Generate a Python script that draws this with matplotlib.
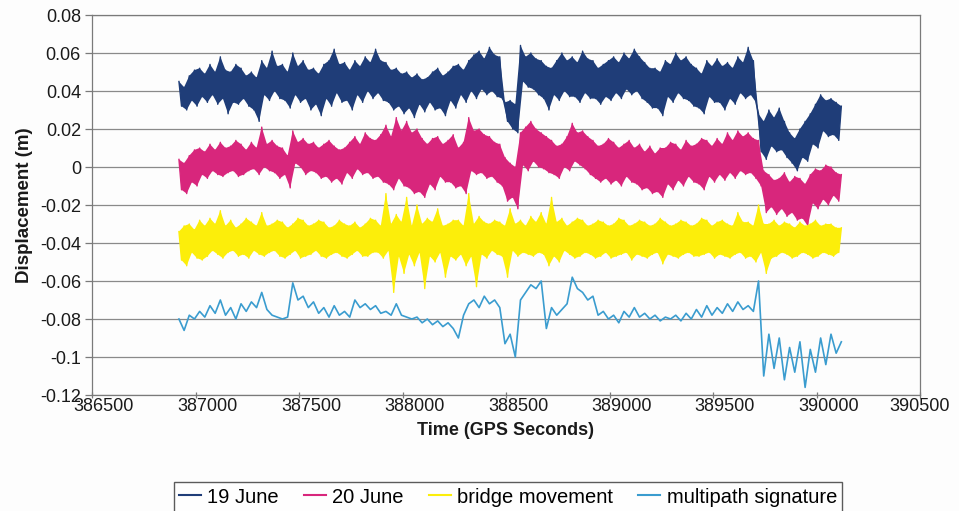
import numpy as np
import matplotlib
matplotlib.use("Agg")
import matplotlib.pyplot as plt
import matplotlib.transforms as mtransforms
from matplotlib import font_manager
from matplotlib.ticker import MultipleLocator, FuncFormatter

# sample times (GPS seconds) for the three dense traces (12.5 s) and the multipath line (25 s)
times = np.arange(386920, 390121, 12.5)
times_mp = np.arange(386920, 390121, 25)
xticks = [386500, 387000, 387500, 388000, 388500, 389000, 389500, 390000, 390500]

# values, alternating upper / lower edge of each noisy trace
june19 = [
    0.045, 0.032, 0.042, 0.030, 0.048, 0.035, 0.051, 0.032, 0.052, 0.037, 0.049, 0.034,
    0.054, 0.038, 0.050, 0.033, 0.058, 0.036, 0.051, 0.028, 0.050, 0.034, 0.054, 0.033,
    0.052, 0.036, 0.048, 0.032, 0.050, 0.030, 0.047, 0.024, 0.056, 0.038, 0.052, 0.035,
    0.061, 0.040, 0.053, 0.036, 0.054, 0.035, 0.050, 0.031, 0.060, 0.038, 0.053, 0.034,
    0.056, 0.036, 0.051, 0.030, 0.052, 0.033, 0.049, 0.027, 0.054, 0.036, 0.056, 0.032,
    0.062, 0.039, 0.054, 0.034, 0.055, 0.035, 0.051, 0.030, 0.056, 0.038, 0.053, 0.034,
    0.058, 0.040, 0.055, 0.036, 0.062, 0.039, 0.056, 0.035, 0.055, 0.034, 0.051, 0.030,
    0.052, 0.032, 0.049, 0.028, 0.050, 0.031, 0.047, 0.026, 0.049, 0.033, 0.046, 0.029,
    0.047, 0.034, 0.050, 0.030, 0.052, 0.031, 0.048, 0.027, 0.050, 0.035, 0.053, 0.031,
    0.054, 0.038, 0.051, 0.034, 0.056, 0.040, 0.059, 0.036, 0.061, 0.041, 0.057, 0.038,
    0.063, 0.040, 0.059, 0.037, 0.058, 0.036, 0.034, 0.024, 0.035, 0.020, 0.033, 0.018,
    0.064, 0.045, 0.058, 0.042, 0.060, 0.041, 0.057, 0.038, 0.056, 0.036, 0.053, 0.030,
    0.052, 0.038, 0.056, 0.035, 0.060, 0.040, 0.056, 0.037, 0.058, 0.037, 0.055, 0.034,
    0.061, 0.039, 0.057, 0.036, 0.056, 0.036, 0.052, 0.033, 0.054, 0.037, 0.056, 0.035,
    0.058, 0.039, 0.055, 0.036, 0.060, 0.041, 0.057, 0.038, 0.062, 0.040, 0.058, 0.036,
    0.055, 0.034, 0.052, 0.031, 0.052, 0.031, 0.050, 0.027, 0.056, 0.037, 0.054, 0.034,
    0.060, 0.039, 0.056, 0.036, 0.058, 0.035, 0.054, 0.032, 0.052, 0.031, 0.049, 0.028,
    0.056, 0.037, 0.053, 0.034, 0.057, 0.034, 0.053, 0.030, 0.055, 0.036, 0.052, 0.033,
    0.058, 0.039, 0.055, 0.036, 0.063, 0.038, 0.056, 0.034, 0.028, 0.008, 0.024, 0.004,
    0.030, 0.011, 0.026, 0.008, 0.031, 0.009, 0.024, 0.005, 0.018, 0.002, 0.015, -0.002,
    0.020, 0.005, 0.024, 0.003, 0.028, 0.012, 0.033, 0.010, 0.038, 0.019, 0.035, 0.016,
    0.036, 0.017, 0.034, 0.014, 0.032]

june20 = [
    0.004, -0.012, 0.002, -0.014, 0.006, -0.008, 0.009, -0.010, 0.010, -0.004, 0.008, -0.006,
    0.012, -0.002, 0.009, -0.004, 0.013, -0.005, 0.010, -0.003, 0.011, -0.002, 0.014, -0.005,
    0.012, -0.004, 0.009, -0.002, 0.013, -0.001, 0.010, -0.004, 0.021, 0.000, 0.012, -0.002,
    0.014, -0.003, 0.011, -0.006, 0.010, -0.004, 0.006, -0.011, 0.019, 0.002, 0.013, 0.000,
    0.015, -0.004, 0.012, -0.002, 0.013, -0.003, 0.010, -0.006, 0.012, -0.005, 0.014, -0.008,
    0.011, -0.006, 0.009, -0.009, 0.010, -0.003, 0.013, -0.006, 0.016, -0.001, 0.012, -0.004,
    0.018, -0.003, 0.015, -0.006, 0.014, -0.005, 0.017, -0.008, 0.022, -0.009, 0.016, -0.012,
    0.026, -0.006, 0.019, -0.010, 0.024, -0.011, 0.018, -0.014, 0.020, -0.013, 0.015, -0.016,
    0.012, -0.009, 0.015, -0.012, 0.016, -0.005, 0.012, -0.008, 0.014, -0.008, 0.017, -0.011,
    0.010, -0.010, 0.013, -0.014, 0.026, -0.002, 0.019, -0.004, 0.020, -0.003, 0.017, -0.006,
    0.016, -0.005, 0.013, -0.008, 0.012, -0.010, 0.005, -0.018, 0.002, -0.016, 0.000, -0.022,
    0.018, 0.001, 0.021, -0.002, 0.024, 0.003, 0.020, 0.000, 0.018, -0.001, 0.016, -0.003,
    0.014, -0.004, 0.011, -0.006, 0.012, 0.000, 0.016, -0.002, 0.023, 0.003, 0.018, 0.001,
    0.019, -0.001, 0.016, -0.004, 0.014, -0.006, 0.011, -0.008, 0.012, -0.006, 0.015, -0.009,
    0.013, -0.007, 0.010, -0.010, 0.012, -0.005, 0.014, -0.008, 0.010, -0.009, 0.012, -0.012,
    0.008, -0.011, 0.011, -0.014, 0.007, -0.013, 0.010, -0.016, 0.010, -0.009, 0.013, -0.012,
    0.012, -0.007, 0.009, -0.010, 0.014, -0.005, 0.011, -0.008, 0.012, -0.009, 0.015, -0.012,
    0.014, -0.005, 0.011, -0.008, 0.015, -0.004, 0.012, -0.007, 0.018, -0.003, 0.014, -0.006,
    0.019, -0.002, 0.016, -0.004, 0.018, -0.003, 0.015, -0.006, 0.014, -0.010, -0.002, -0.024,
    -0.004, -0.021, -0.007, -0.025, -0.006, -0.022, -0.003, -0.026, -0.008, -0.024, -0.005, -0.028,
    -0.006, -0.027, -0.009, -0.031, -0.004, -0.019, -0.001, -0.022, -0.002, -0.017, 0.001, -0.020,
    0.000, -0.015, -0.003, -0.018, -0.004]

bridge = [
    -0.034, -0.049, -0.031, -0.052, -0.030, -0.045, -0.033, -0.048, -0.028, -0.049, -0.031, -0.047,
    -0.027, -0.044, -0.030, -0.046, -0.023, -0.048, -0.031, -0.045, -0.028, -0.044, -0.032, -0.047,
    -0.030, -0.046, -0.027, -0.048, -0.029, -0.044, -0.031, -0.046, -0.024, -0.047, -0.031, -0.045,
    -0.030, -0.044, -0.028, -0.047, -0.029, -0.048, -0.032, -0.046, -0.030, -0.044, -0.027, -0.048,
    -0.028, -0.047, -0.031, -0.046, -0.030, -0.044, -0.028, -0.047, -0.029, -0.048, -0.032, -0.046,
    -0.031, -0.045, -0.028, -0.047, -0.030, -0.048, -0.031, -0.046, -0.029, -0.044, -0.032, -0.047,
    -0.030, -0.047, -0.027, -0.045, -0.028, -0.045, -0.031, -0.048, -0.014, -0.044, -0.030, -0.066,
    -0.025, -0.047, -0.029, -0.056, -0.016, -0.046, -0.031, -0.052, -0.020, -0.045, -0.030, -0.064,
    -0.027, -0.047, -0.029, -0.050, -0.022, -0.045, -0.031, -0.058, -0.030, -0.047, -0.028, -0.049,
    -0.028, -0.046, -0.031, -0.052, -0.014, -0.047, -0.030, -0.063, -0.026, -0.046, -0.029, -0.048,
    -0.030, -0.044, -0.028, -0.046, -0.029, -0.047, -0.031, -0.058, -0.022, -0.044, -0.030, -0.047,
    -0.028, -0.045, -0.031, -0.046, -0.026, -0.047, -0.029, -0.045, -0.024, -0.046, -0.030, -0.052,
    -0.016, -0.047, -0.029, -0.050, -0.027, -0.044, -0.031, -0.046, -0.029, -0.048, -0.027, -0.047,
    -0.028, -0.045, -0.031, -0.046, -0.030, -0.048, -0.028, -0.047, -0.029, -0.045, -0.031, -0.048,
    -0.030, -0.047, -0.027, -0.046, -0.028, -0.045, -0.031, -0.049, -0.030, -0.046, -0.028, -0.047,
    -0.029, -0.048, -0.031, -0.046, -0.030, -0.045, -0.027, -0.051, -0.029, -0.046, -0.031, -0.047,
    -0.030, -0.048, -0.028, -0.046, -0.029, -0.045, -0.031, -0.047, -0.030, -0.047, -0.027, -0.046,
    -0.028, -0.045, -0.031, -0.048, -0.029, -0.046, -0.028, -0.047, -0.030, -0.048, -0.031, -0.046,
    -0.024, -0.045, -0.029, -0.048, -0.029, -0.047, -0.031, -0.050, -0.020, -0.045, -0.030, -0.056,
    -0.030, -0.048, -0.028, -0.047, -0.031, -0.045, -0.029, -0.046, -0.030, -0.048, -0.032, -0.047,
    -0.029, -0.045, -0.031, -0.046, -0.030, -0.048, -0.028, -0.047, -0.031, -0.045, -0.030, -0.046,
    -0.030, -0.047, -0.032, -0.045, -0.032]

multipath = [
    -0.080, -0.086, -0.078, -0.080, -0.076, -0.079, -0.073, -0.077, -0.070, -0.078,
    -0.074, -0.080, -0.072, -0.076, -0.071, -0.074, -0.066, -0.075, -0.078, -0.079,
    -0.080, -0.079, -0.061, -0.070, -0.068, -0.074, -0.071, -0.077, -0.074, -0.079,
    -0.073, -0.078, -0.076, -0.079, -0.070, -0.074, -0.072, -0.075, -0.073, -0.077,
    -0.076, -0.078, -0.072, -0.078, -0.079, -0.080, -0.079, -0.082, -0.080, -0.083,
    -0.081, -0.084, -0.082, -0.085, -0.090, -0.078, -0.072, -0.070, -0.074, -0.068,
    -0.072, -0.070, -0.074, -0.093, -0.088, -0.100, -0.070, -0.066, -0.062, -0.064,
    -0.060, -0.085, -0.074, -0.078, -0.075, -0.072, -0.058, -0.064, -0.066, -0.070,
    -0.068, -0.078, -0.076, -0.080, -0.078, -0.082, -0.076, -0.079, -0.074, -0.079,
    -0.077, -0.080, -0.078, -0.081, -0.079, -0.080, -0.078, -0.081, -0.077, -0.080,
    -0.075, -0.079, -0.073, -0.078, -0.074, -0.077, -0.072, -0.076, -0.071, -0.075,
    -0.073, -0.076, -0.060, -0.110, -0.088, -0.106, -0.090, -0.112, -0.095, -0.108,
    -0.092, -0.116, -0.096, -0.108, -0.090, -0.104, -0.088, -0.098, -0.092]

labels = ["19 June", "20 June", "bridge movement", "multipath signature"]
colors = ["#1f3d78", "#d8267c", "#fcee0a", "#3a9ccf"]

installed = {f.name for f in font_manager.fontManager.ttflist}
narrow = "Liberation Sans Narrow" if "Liberation Sans Narrow" in installed else "Liberation Sans"
plt.rcParams["font.family"] = ["Liberation Sans", "DejaVu Sans"]

fig = plt.figure(figsize=(9.59, 5.11), dpi=100)
fig.patch.set_facecolor("#fdfdfd")
ax = fig.add_axes([92 / 959, 1 - 395 / 511, 828 / 959, 380 / 511])
ax.set_facecolor("none")

handles = []
series = [(times, june19, True), (times, june20, True), (times, bridge, True),
          (times_mp, multipath, False)]
for (t, vals, band), lab, col in zip(series, labels, colors):
    t = np.asarray(t)
    v = np.asarray(vals)
    if band:
        # dense trace: shade between its upper and lower readings
        xs = np.concatenate([t[0::2], t[1::2][::-1]])
        ys = np.concatenate([v[0::2], v[1::2][::-1]])
        ax.fill(xs, ys, color=col, lw=0, zorder=2)
    line, = ax.plot(t, v, color=col, lw=1.0 if band else 1.2, label=lab, zorder=2)
    handles.append(line)

ax.set_xlim(386500, 390500)
ax.set_ylim(-0.12, 0.08)
ax.set_xticks(xticks)
ax.yaxis.set_major_locator(MultipleLocator(0.02))
ax.xaxis.set_major_formatter(FuncFormatter(lambda v, p: f"{int(round(v))}"))


def yfmt(v, p):
    v = round(v, 2)
    return "0" if abs(v) < 1e-9 else f"{v:g}"


ax.yaxis.set_major_formatter(FuncFormatter(yfmt))
ax.grid(axis="y", color="#8a8a8a", lw=0.9, zorder=0)
ax.set_axisbelow(True)
for s in ax.spines.values():
    s.set_color("#7a7a7a")
    s.set_linewidth(0.9)
ax.tick_params(axis="both", colors="#7a7a7a", labelcolor="#1a1a1a", labelsize=13,
               length=5, width=0.9)
ax.tick_params(axis="x", direction="inout", pad=0)
ax.tick_params(axis="y", direction="out", pad=3)

# the scanned original has its time labels sitting a little right of the ticks
shift = mtransforms.ScaledTranslation(12 / 100, 0, fig.dpi_scale_trans)
xlabels = ax.get_xticklabels()
for lbl in xlabels[:-1]:
    lbl.set_transform(lbl.get_transform() + shift)

ax.set_ylabel("Displacement (m)", fontsize=13.5, fontweight="bold", labelpad=5,
              color="#1a1a1a")
ax.set_xlabel("Time (GPS Seconds)", fontsize=13, fontweight="bold", labelpad=5,
              family=[narrow, "DejaVu Sans"], color="#1a1a1a")

leg = fig.legend(handles=handles, loc="center", ncol=4,
                 bbox_to_anchor=(508 / 959, 1 - 497 / 511),
                 frameon=True, fancybox=False, edgecolor="#333333",
                 prop={"family": [narrow, "DejaVu Sans"], "size": 14.5},
                 handlelength=1.1, handletextpad=0.3, columnspacing=1.25,
                 borderpad=0.25, borderaxespad=0)
leg.get_frame().set_linewidth(1.0)
for h in leg.get_lines():
    h.set_linewidth(1.5)

fig.savefig("out.png", dpi=100, facecolor=fig.get_facecolor())
